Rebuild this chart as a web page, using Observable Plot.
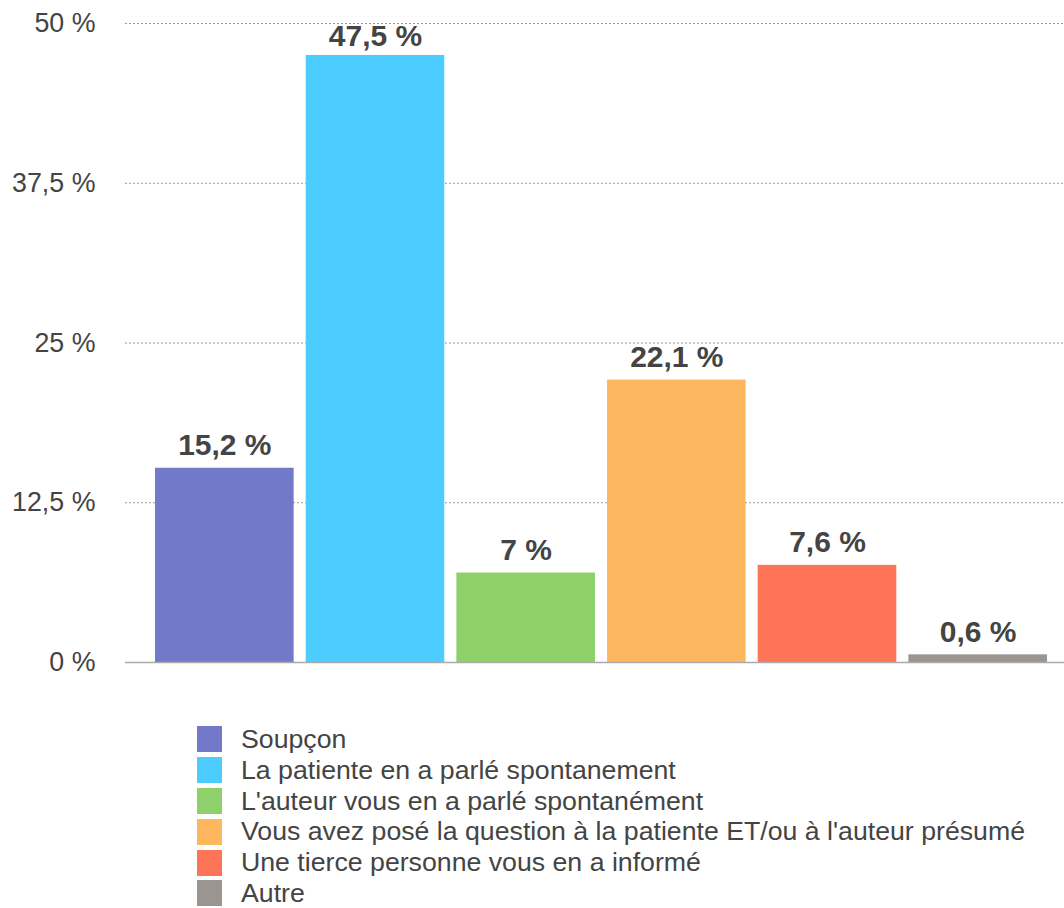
<!DOCTYPE html>
<html><head><meta charset="utf-8">
<script src="https://cdn.jsdelivr.net/npm/d3@7"></script>
<script src="https://cdn.jsdelivr.net/npm/@observablehq/plot@0.6"></script>
<style>
body{margin:0;background:#fff;font-family:"Liberation Sans",Arial,sans-serif;}
#chart svg{display:block;}
#legend{margin-top:24px;margin-left:197px;}
.row{display:flex;align-items:center;height:30.8px;}
.sw{width:25px;height:26px;flex:none;}
.lab{margin-left:19px;font-size:26.7px;line-height:1;color:#444;white-space:nowrap;}
</style></head>
<body>
<div id="chart"></div>
<div id="legend"></div>
<script>
const categories = ["Soupçon","La patiente en a parlé spontanement","L'auteur vous en a parlé spontanément","Vous avez posé la question à la patiente ET/ou à l'auteur présumé","Une tierce personne vous en a informé","Autre"];
const values = [15.2, 47.5, 7, 22.1, 7.6, 0.6];
const colors = ["#7179C8","#4DCDFF","#8ED16A","#FDB75E","#FD7456","#9B9591"];
const yTicks = [0, 12.5, 25, 37.5, 50];

const data = categories.map((c, i) => ({category: c, value: values[i]}));
const fmt = v => String(v).replace(".", ",") + " %";
const labelStyle = {x: "category", y: "value", text: d => fmt(d.value), lineAnchor: "bottom", fontSize: 30, fontWeight: "bold", fill: "#444"};

const chart = Plot.plot({
  width: 1064, height: 700,
  marginLeft: 125, marginRight: 0, marginTop: 23, marginBottom: 38,
  style: {fontFamily: "Liberation Sans, Arial, sans-serif", background: "white", overflow: "visible"},
  x: {domain: categories, axis: null, round: false, paddingInner: 0.08, paddingOuter: 0.04, insetLeft: 24, insetRight: 11},
  y: {domain: [0, 50], axis: null},
  color: {domain: categories, range: colors},
  marks: [
    Plot.ruleY(yTicks.filter(d => d > 0), {stroke: "#9a9a9a", strokeDasharray: "2,2", strokeWidth: 1}),
    Plot.barY(data, {x: "category", y: "value", fill: "category"}),
    Plot.ruleY([0], {stroke: "#aaa", strokeWidth: 1.5}),
    Plot.text(data.filter(d => d.value < 45), {...labelStyle, dy: -13}),
    Plot.text(data.filter(d => d.value >= 45), {...labelStyle, dy: -9}),
    Plot.axisY(yTicks, {label: null, tickSize: 0, tickPadding: 30, tickFormat: fmt, fontSize: 26.8, fill: "#444"})
  ]
});
document.getElementById("chart").append(chart);

const legend = document.getElementById("legend");
categories.forEach((c, i) => {
  const row = document.createElement("div");
  row.className = "row";
  const sw = document.createElement("div");
  sw.className = "sw";
  sw.style.background = colors[i];
  const lab = document.createElement("span");
  lab.className = "lab";
  lab.textContent = c;
  row.append(sw, lab);
  legend.append(row);
});
</script>
</body></html>
